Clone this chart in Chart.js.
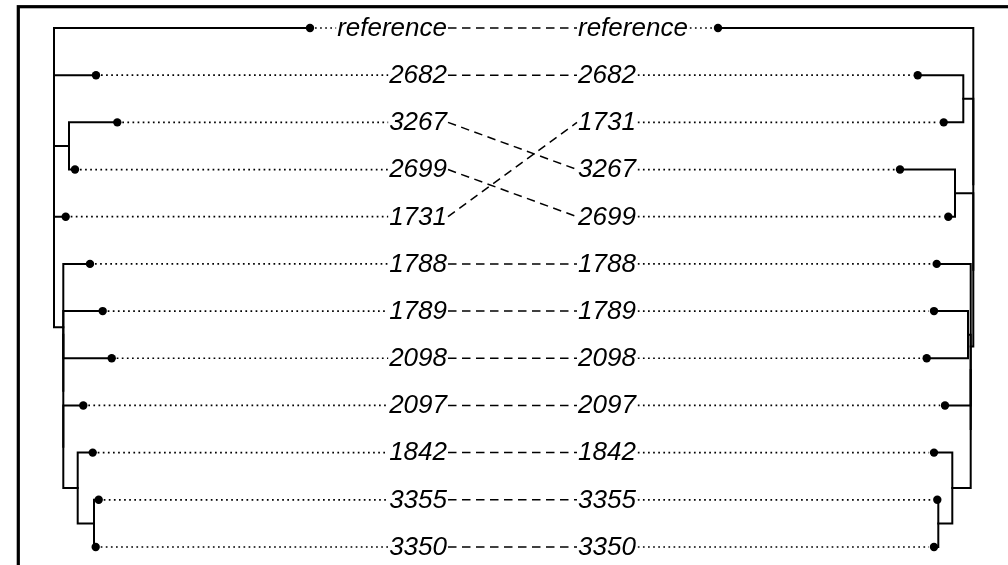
<!DOCTYPE html>
<html>
<head>
<meta charset="utf-8">
<title>Tanglegram</title>
<script src="https://cdn.jsdelivr.net/npm/chart.js@4/dist/chart.umd.min.js"></script>
<style>
  html, body { margin: 0; padding: 0; background: #ffffff; }
  #wrap { width: 1008px; height: 565px; }
</style>
</head>
<body>
<div id="wrap"><canvas id="tangle" width="1008" height="565"></canvas></div>
<script>
// Leaf order and branch depth (distance from the root) for each tree.
const leftLabels  = ['reference', '2682', '3267', '2699', '1731', '1788', '1789', '2098', '2097', '1842', '3355', '3350'];
const leftDepth   = [25.6, 4.2, 6.33, 2.1, 1.17, 3.6, 4.87, 5.77, 2.93, 3.87, 4.47, 4.17];

const rightLabels = ['reference', '2682', '1731', '3267', '2699', '1788', '1789', '2098', '2097', '1842', '3355', '3350'];
const rightDepth  = [25.53, 5.56, 2.96, 7.33, 2.5, 3.66, 3.93, 4.66, 2.83, 3.93, 3.6, 3.93];

// Merge lists: [childA, childB, depth]; a string is a leaf label, a number is an earlier merge.
const leftMerges = [
  ['3267', '2699', 1.5],
  ['3355', '3350', 4.0],
  ['1842', 1, 2.37],
  ['2097', 2, 0.93],
  ['1789', '2098', 0.93],
  [4, 3, 0.93],
  ['1788', 5, 0.93],
  ['1731', 6, 0],
  [0, 7, 0],
  ['2682', 8, 0],
  ['reference', 9, 0]
];

const rightMerges = [
  ['2682', '1731', 1.0],
  ['3267', '2699', 1.83],
  ['3355', '3350', 3.5],
  ['1842', 2, 2.1],
  ['1789', '2098', 0.53],
  [4, '2097', 0.26],
  [5, 3, 0.26],
  ['1788', 6, 0.26],
  [1, 7, 0],
  [0, 8, 0],
  ['reference', 9, 0]
];

// Layout (pixels)
const W = 1008, H = 565;
const PX_PER_UNIT = 10;
const LEFT_ROOT_PX = 54, RIGHT_ROOT_PX = 973.3;
const ROW0_PX = 28, ROW_PX = 47.18;
const LEFT_TEXT_END = 447, RIGHT_TEXT_START = 578;
const FONT_SIZE = 26;
const FONT = 'italic ' + FONT_SIZE + 'px "Liberation Sans", Arial, sans-serif';

function treeSegments(labels, depths, merges) {
  const nodes = [];
  const pos = (c) => {
    if (typeof c === 'number') return nodes[c];
    const i = labels.indexOf(c);
    return { x: depths[i], y: i };
  };
  const paths = [];
  merges.forEach(([a, b, d]) => {
    const pa = pos(a), pb = pos(b);
    const node = { x: d, y: (pa.y + pb.y) / 2 };
    nodes.push(node);
    paths.push([
      { x: pa.x, y: pa.y }, { x: d, y: pa.y },
      { x: d, y: pb.y }, { x: pb.x, y: pb.y }
    ]);
  });
  return paths;
}

const datasets = [];
function addTree(labels, depths, merges, axisId) {
  treeSegments(labels, depths, merges).forEach(path => {
    datasets.push({
      data: path, xAxisID: axisId, yAxisID: 'y',
      showLine: true, borderColor: '#000', borderWidth: 2,
      pointRadius: 0, borderCapStyle: 'square', borderJoinStyle: 'miter'
    });
  });
  datasets.push({
    data: depths.map((d, i) => ({ x: d, y: i })),
    xAxisID: axisId, yAxisID: 'y',
    showLine: false, pointRadius: 4.2, pointBackgroundColor: '#000',
    pointBorderWidth: 0, borderColor: '#000'
  });
}
addTree(leftLabels, leftDepth, leftMerges, 'xl');
addTree(rightLabels, rightDepth, rightMerges, 'xr');

// Labels, dotted leaders, dashed connectors and the frame.
const tanglePlugin = {
  id: 'tangle',
  beforeDatasetsDraw(chart) {
    const ctx = chart.ctx;
    const xl = chart.scales.xl, xr = chart.scales.xr, y = chart.scales.y;
    ctx.save();
    ctx.font = FONT;
    ctx.fillStyle = '#000';
    ctx.strokeStyle = '#000';
    const base = FONT_SIZE * 0.3;

    // left labels and leaders
    leftLabels.forEach((lab, i) => {
      const py = y.getPixelForValue(i);
      const w = ctx.measureText(lab).width;
      ctx.textAlign = 'right';
      ctx.textBaseline = 'alphabetic';
      ctx.fillText(lab, LEFT_TEXT_END, py + base);
      ctx.lineWidth = 1.7;
      ctx.setLineDash([1.7, 3.4]);
      ctx.beginPath();
      ctx.moveTo(xl.getPixelForValue(leftDepth[i]) + 5, py);
      ctx.lineTo(LEFT_TEXT_END - w - 1, py);
      ctx.stroke();
    });

    // right labels and leaders
    rightLabels.forEach((lab, i) => {
      const py = y.getPixelForValue(i);
      const w = ctx.measureText(lab).width;
      ctx.textAlign = 'left';
      ctx.textBaseline = 'alphabetic';
      ctx.fillText(lab, RIGHT_TEXT_START, py + base);
      ctx.lineWidth = 1.7;
      ctx.setLineDash([1.7, 3.4]);
      ctx.beginPath();
      ctx.moveTo(RIGHT_TEXT_START + w + 2, py);
      ctx.lineTo(xr.getPixelForValue(rightDepth[i]) - 5, py);
      ctx.stroke();
    });

    // connectors between matching labels
    ctx.lineWidth = 1.5;
    ctx.setLineDash([8.5, 5.5]);
    leftLabels.forEach((lab, i) => {
      const j = rightLabels.indexOf(lab);
      ctx.beginPath();
      ctx.moveTo(LEFT_TEXT_END + 1, y.getPixelForValue(i));
      ctx.lineTo(RIGHT_TEXT_START - 1, y.getPixelForValue(j));
      ctx.stroke();
    });
    ctx.restore();
  },
  afterDraw(chart) {
    const ctx = chart.ctx;
    ctx.save();
    ctx.strokeStyle = '#000';
    ctx.lineWidth = 3.2;
    ctx.setLineDash([]);
    ctx.strokeRect(18.3, 6.7, W + 40, H + 40);
    ctx.restore();
  }
};

new Chart(document.getElementById('tangle'), {
  type: 'scatter',
  data: { datasets },
  options: {
    responsive: false,
    animation: false,
    events: [],
    layout: { padding: 0, autoPadding: false },
    plugins: { legend: { display: false }, tooltip: { enabled: false } },
    scales: {
      xl: {
        type: 'linear', display: false,
        min: -LEFT_ROOT_PX / PX_PER_UNIT,
        max: (W - LEFT_ROOT_PX) / PX_PER_UNIT
      },
      xr: {
        type: 'linear', display: false, reverse: true,
        min: -(W - RIGHT_ROOT_PX) / PX_PER_UNIT,
        max: RIGHT_ROOT_PX / PX_PER_UNIT
      },
      y: {
        type: 'linear', display: false, reverse: true,
        min: -ROW0_PX / ROW_PX,
        max: (H - ROW0_PX) / ROW_PX
      }
    }
  },
  plugins: [tanglePlugin]
});
</script>
</body>
</html>
